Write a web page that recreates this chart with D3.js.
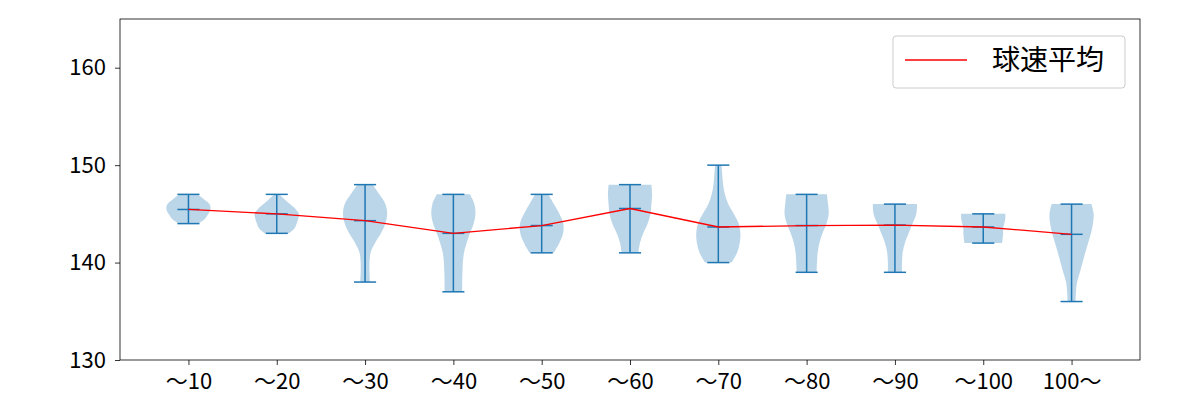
<!DOCTYPE html>
<html>
<head>
<meta charset="utf-8">
<script src="https://cdn.jsdelivr.net/npm/d3@7"></script>
<style>
  body { margin: 0; background: #fff; }
  text { font-family: "Noto Sans CJK JP", "Noto Sans", sans-serif; }
</style>
</head>
<body>
<svg id="chart" width="1200" height="400"></svg>
<script>
// categories and per-violin stats
const categories = ['〜10', '〜20', '〜30', '〜40', '〜50', '〜60', '〜70', '〜80', '〜90', '〜100', '100〜']
const mins = [144, 143, 138, 137, 141, 141, 140, 139, 139, 142, 136]
const maxs = [147, 147, 148, 147, 147, 148, 150, 147, 146, 145, 146]
const means = [145.45, 145.0, 144.3, 143.0, 143.8, 145.55, 143.65, 143.8, 143.85, 143.65, 142.9]
// relative violin widths, evenly spaced from min to max
const densities = [
  [0.45, 0.75, 0.9, 1.0, 0.95, 0.7, 0.4],
  [0.55, 0.8, 0.9, 0.97, 1.0, 0.85, 0.6, 0.35, 0.1],
  [0.22, 0.2, 0.2, 0.25, 0.45, 0.72, 0.92, 1.0, 0.92, 0.65, 0.35],
  [0.4, 0.4, 0.41, 0.43, 0.48, 0.6, 0.75, 0.92, 1.0, 0.95, 0.75],
  [0.55, 0.8, 0.97, 0.98, 0.8, 0.55, 0.3],
  [0.38, 0.45, 0.6, 0.8, 0.93, 0.97, 1.0, 0.97],
  [0.6, 0.85, 0.97, 1.0, 0.92, 0.7, 0.45, 0.3, 0.22, 0.18, 0.15],
  [0.45, 0.47, 0.5, 0.58, 0.72, 0.9, 1.0, 0.97, 0.92],
  [0.32, 0.32, 0.35, 0.45, 0.62, 0.8, 0.97, 1.0],
  [0.85, 0.88, 0.9, 0.9, 0.95, 1.0, 1.0],
  [0.18, 0.2, 0.25, 0.38, 0.5, 0.62, 0.75, 0.88, 0.97, 1.0, 0.9]
]
const yTicks = [130, 140, 150, 160]
const legendLabel = '球速平均'

const svg = d3.select('#chart')
const mLeft = 120, mRight = 1140, mTop = 19, mBottom = 360
const blue = '#1f77b4'

const x = d3.scaleLinear().domain([0.225, 11.775]).range([mLeft, mRight])
const y = d3.scaleLinear().domain([130, 165]).range([mBottom, mTop])

// violins
const area = d3.area()
  .y(d => y(d.v))
  .x0(d => x(d.pos) - (x(d.pos + 0.25) - x(d.pos)) * d.w)
  .x1(d => x(d.pos) + (x(d.pos + 0.25) - x(d.pos)) * d.w)
  .curve(d3.curveCatmullRom)

categories.forEach((c, i) => {
  const pos = i + 1
  const dens = densities[i]
  const pts = dens.map((w, k) => ({
    pos: pos,
    w: w,
    v: mins[i] + (maxs[i] - mins[i]) * k / (dens.length - 1)
  }))
  svg.append('path')
    .attr('d', area(pts))
    .attr('fill', blue)
    .attr('fill-opacity', 0.3)
    .attr('stroke', 'none')

  const g = svg.append('g').attr('stroke', blue).attr('stroke-width', 1.5)
  g.append('line')
    .attr('x1', x(pos)).attr('x2', x(pos))
    .attr('y1', y(mins[i])).attr('y2', y(maxs[i]))
  ;[mins[i], maxs[i], means[i]].forEach(v => {
    g.append('line')
      .attr('x1', x(pos - 0.125)).attr('x2', x(pos + 0.125))
      .attr('y1', y(v)).attr('y2', y(v))
  })
})

// mean line
const line = d3.line().x((d, i) => x(i + 1)).y(d => y(d))
svg.append('path')
  .attr('d', line(means))
  .attr('fill', 'none')
  .attr('stroke', 'red')
  .attr('stroke-width', 1.3)

// axes
const xAxis = d3.axisBottom(x)
  .tickValues(d3.range(1, 12))
  .tickFormat(d => categories[d - 1])
  .tickSize(5).tickPadding(8)
const yAxis = d3.axisLeft(y).tickValues(yTicks).tickSize(5).tickPadding(9)

const gx = svg.append('g').attr('transform', `translate(0,${mBottom})`).call(xAxis)
const gy = svg.append('g').attr('transform', `translate(${mLeft},0)`).call(yAxis)
;[gx, gy].forEach(g => {
  g.select('.domain').remove()
  g.selectAll('line').attr('stroke', '#000').attr('stroke-width', 0.8)
  g.selectAll('text').attr('fill', '#000').style('font-size', '22px')
})

svg.append('rect')
  .attr('x', mLeft).attr('y', mTop)
  .attr('width', mRight - mLeft).attr('height', mBottom - mTop)
  .attr('fill', 'none').attr('stroke', '#000').attr('stroke-width', 0.8)

// legend
const lg = svg.append('g').attr('transform', 'translate(893,36)')
lg.append('rect')
  .attr('width', 232).attr('height', 52).attr('rx', 3)
  .attr('fill', '#fff').attr('fill-opacity', 0.8)
  .attr('stroke', '#ccc').attr('stroke-width', 1)
lg.append('line')
  .attr('x1', 12).attr('x2', 74).attr('y1', 24).attr('y2', 24)
  .attr('stroke', 'red').attr('stroke-width', 1.3)
lg.append('text')
  .attr('x', 99).attr('y', 24).attr('dy', '0.35em')
  .style('font-size', '28px').attr('fill', '#000')
  .text(legendLabel)
</script>
</body>
</html>
